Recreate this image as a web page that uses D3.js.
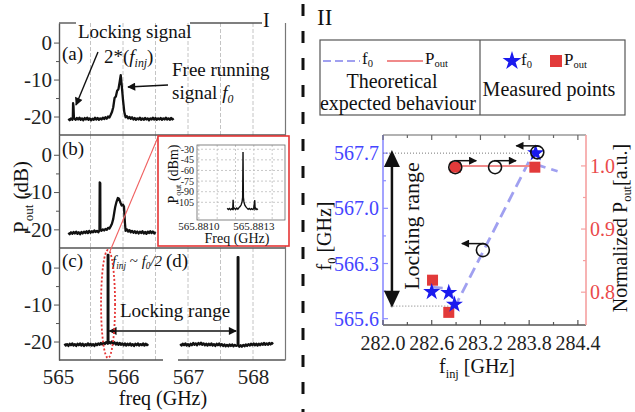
<!DOCTYPE html>
<html><head><meta charset="utf-8">
<script src="https://cdn.jsdelivr.net/npm/d3@7"></script>
<style>
body{margin:0;background:#fff}
svg{display:block}
</style>
</head><body>
<svg id="chart" width="635" height="412" font-family="'Liberation Serif','Times New Roman',serif"></svg>
<script>
// ---------------- DATA ----------------
// Panel I spectra: [freq GHz, power dB]
const specA = [
[565.16,-20.6],[565.18,-21.0],[565.20,-20.5],[565.22,-20.9],[565.228,-20.6],[565.232,-16.4],[565.238,-17.2],[565.245,-20.4],[565.27,-20.9],[565.29,-20.4],[565.31,-20.8],[565.33,-20.3],[565.35,-20.9],[565.37,-20.5],[565.39,-21.0],[565.41,-20.4],[565.43,-20.8],[565.45,-20.3],[565.47,-20.9],[565.49,-20.5],[565.51,-21.0],[565.53,-20.6],[565.55,-20.9],[565.57,-20.3],[565.59,-20.8],[565.61,-20.4],[565.63,-20.9],[565.65,-20.5],[565.67,-20.8],[565.69,-20.3],[565.71,-20.7],[565.73,-20.2],[565.75,-20.6],[565.77,-20.0],[565.79,-20.3],[565.81,-19.6],[565.83,-18.8],[565.85,-17.5],[565.87,-15.0],[565.89,-14.6],[565.91,-13.0],[565.93,-12.6],[565.95,-10.5],[565.965,-8.8],[565.98,-11.5],[566.00,-15.5],[566.02,-18.8],[566.04,-20.2],[566.06,-19.9],[566.08,-20.5],[566.10,-20.1],[566.12,-20.6],[566.14,-20.2],[566.16,-20.8],[566.18,-20.4],[566.20,-20.9],[566.22,-20.5],[566.24,-20.8],[566.26,-20.3],[566.28,-20.9],[566.30,-20.5],[566.32,-20.9],[566.34,-20.4],[566.36,-20.8],[566.38,-20.5],[566.40,-21.0],[566.42,-20.5],[566.44,-20.8],[566.46,-20.3],[566.48,-20.8],[566.50,-20.4],[566.52,-20.9],[566.54,-20.5],[566.56,-20.8],[566.58,-20.4],[566.60,-20.9],[566.62,-20.5],[566.64,-20.8],[566.66,-20.3],[566.68,-20.8],[566.70,-20.5],[566.72,-20.9],[566.74,-20.4],[566.76,-20.8],[566.78,-20.5]
];
const specB = [
[565.16,-20.9],[565.18,-21.3],[565.20,-20.8],[565.22,-21.2],[565.24,-20.7],[565.26,-21.1],[565.28,-20.6],[565.30,-21.2],[565.32,-20.8],[565.34,-21.3],[565.36,-20.7],[565.38,-21.1],[565.40,-20.6],[565.42,-21.0],[565.44,-20.5],[565.46,-21.0],[565.48,-20.4],[565.50,-20.9],[565.52,-20.5],[565.54,-20.8],[565.56,-20.3],[565.58,-20.7],[565.60,-20.4],[565.62,-20.8],[565.638,-20.3],[565.642,-7.4],[565.65,-7.6],[565.652,-20.2],[565.67,-20.4],[565.69,-20.0],[565.71,-20.3],[565.73,-19.9],[565.75,-20.1],[565.77,-19.6],[565.79,-19.8],[565.81,-19.2],[565.83,-18.5],[565.85,-17.2],[565.87,-15.0],[565.88,-14.0],[565.90,-12.6],[565.92,-11.6],[565.94,-11.8],[565.96,-12.8],[565.98,-13.6],[566.00,-13.4],[566.015,-13.9],[566.03,-18.3],[566.04,-20.4],[566.06,-20.0],[566.08,-20.6],[566.10,-20.2],[566.12,-20.8],[566.14,-20.4],[566.16,-20.9],[566.18,-20.5],[566.20,-21.0],[566.22,-20.6],[566.24,-21.1],[566.26,-20.6],[566.28,-21.0],[566.30,-20.5],[566.32,-21.1],[566.34,-20.7],[566.36,-21.2],[566.38,-20.6],[566.40,-21.0],[566.42,-20.5],[566.44,-21.0],[566.46,-20.6],[566.48,-21.1],[566.50,-20.7]
];
const specC = [
[565.10,-20.6],[565.12,-21.1],[565.14,-20.7],[565.16,-21.2],[565.18,-20.6],[565.20,-21.0],[565.22,-20.5],[565.24,-21.1],[565.26,-20.7],[565.28,-21.2],[565.30,-20.6],[565.32,-21.0],[565.34,-20.5],[565.36,-21.1],[565.38,-20.6],[565.40,-21.2],[565.42,-20.7],[565.44,-21.1],[565.46,-20.5],[565.48,-21.0],[565.50,-20.6],[565.52,-21.1],[565.54,-20.7],[565.56,-21.2],[565.58,-20.6],[565.60,-21.0],[565.62,-20.5],[565.64,-20.9],[565.66,-20.4],[565.68,-20.8],[565.70,-20.3],[565.72,-20.7],[565.74,-20.2],[565.765,-20.6],[565.765,3.4],[565.775,3.4],[565.775,-20.5],[565.79,-20.1],[565.81,-20.5],[565.83,-20.0],[565.85,-20.6],[565.87,-20.2],[565.89,-20.8],[565.91,-20.3],[565.93,-20.9],[565.95,-20.4],[565.97,-20.9],[565.99,-20.5],[566.01,-21.0],[566.03,-20.5],[566.05,-21.1],[566.07,-20.6],[566.09,-21.0],[566.11,-20.5],[566.13,-21.1],[566.15,-20.7],[566.17,-21.2],[566.19,-20.6],[566.21,-21.0],[566.23,-20.5],[566.25,-21.1],[566.27,-20.7],[566.29,-21.0],[566.31,-20.5],[566.33,-21.1],[566.35,-20.6],[566.37,-21.0],[566.39,-20.7]
];
const specD = [
[566.88,-20.7],[566.90,-21.1],[566.92,-20.6],[566.94,-21.0],[566.96,-20.5],[566.98,-21.1],[567.00,-20.7],[567.02,-21.2],[567.04,-20.6],[567.06,-21.0],[567.08,-20.4],[567.10,-20.9],[567.12,-20.5],[567.14,-21.0],[567.16,-20.4],[567.18,-20.8],[567.20,-20.3],[567.22,-20.9],[567.24,-20.5],[567.26,-21.0],[567.28,-20.6],[567.30,-21.1],[567.32,-20.6],[567.34,-21.0],[567.36,-20.5],[567.38,-21.1],[567.40,-20.7],[567.42,-21.2],[567.44,-20.6],[567.46,-21.0],[567.48,-20.5],[567.50,-21.1],[567.52,-20.7],[567.54,-21.2],[567.56,-20.8],[567.58,-21.3],[567.60,-20.9],[567.62,-21.3],[567.64,-20.8],[567.66,-21.2],[567.68,-20.8],[567.70,-21.3],[567.72,-20.9],[567.74,-21.2],[567.765,-21.0],[567.765,2.8],[567.775,2.8],[567.775,-21.1],[567.79,-21.4],[567.81,-21.0],[567.83,-21.4],[567.85,-20.9],[567.87,-21.3],[567.89,-20.8],[567.91,-21.2],[567.93,-20.7],[567.95,-21.1],[567.97,-20.6],[567.99,-21.0],[568.01,-20.5],[568.03,-21.0],[568.05,-20.6],[568.07,-21.1],[568.09,-20.6],[568.11,-21.0],[568.13,-20.5],[568.15,-20.9],[568.17,-20.4],[568.19,-20.9],[568.21,-20.5],[568.23,-20.9],[568.25,-20.4],[568.27,-20.8],[568.29,-20.4],[568.31,-20.7]
];
const specTicks = [0,-10,-20];
const specMinor = [-5,-15];
const freqTicks = [565,566,567,568];
const freqGrid = [565.5,566,566.5,567,567.5,568];

// Inset spectrum: [freq GHz, power dBm]
const insetSpec = [
[565.881155,-113.5],[565.881161,-115.2],[565.881167,-113.8],[565.881173,-115.5],[565.881179,-114.0],[565.881185,-115.0],[565.881187,-101.5],[565.881189,-114.6],[565.881195,-113.4],[565.881201,-115.1],[565.881207,-113.2],[565.881213,-114.6],[565.881219,-112.5],[565.881225,-111.0],[565.881231,-108.5],[565.881236,-104.0],[565.881239,-98],[565.881241,-34],[565.881243,-98],[565.881246,-104.5],[565.881251,-109.0],[565.881257,-111.5],[565.881263,-113.2],[565.881269,-114.8],[565.881275,-113.6],[565.881281,-115.3],[565.881287,-113.9],[565.881293,-115.0],[565.881299,-114.2],[565.881305,-102.0],[565.881307,-114.8],[565.881311,-113.6],[565.881317,-115.2],[565.881322,-114.0]
];
const insetYTicks = [-30,-45,-60,-75,-90,-105];
const insetXTicks = [565.8810,565.8813];
const insetXGrid = [565.8810,565.8811,565.8812,565.8813,565.8814];

// Panel II
const finjTheoF0 = [282.6, 282.82, 282.89, 283.86, 283.9, 284.15];
const f0Theo     = [566.0, 565.98, 565.76, 567.72, 567.55, 567.47];
const finjTheoP  = [282.89, 283.86];
const pTheo      = [1.0, 1.0];
const finjMeasF0 = [282.6, 282.81, 282.88, 283.88];
const f0Meas     = [565.94, 565.93, 565.78, 567.70];
const finjMeasP  = [282.61, 282.81, 282.89, 283.87];
const pMeas      = [0.819, 0.768, 0.998, 0.998];
// axis-indicator circles: finj, value, axis, arrow direction
const indFinj = [282.89, 283.38, 283.23, 283.90];
const indVal  = [0.998, 0.998, 566.47, 567.71];
const indAxis = ['P','P','F','F'];
const indDir  = [1, 1, -1, -1];
const finjTicks = [282.0,282.6,283.2,283.8,284.4];
const finjMinor = [282.3,282.9,283.5,284.1];
const f0Ticks = [565.6,566.3,567.0,567.7];
const f0Minor = [565.95,566.65,567.35];
const pTicks = [0.8,0.9,1.0];
const pMinor = [0.85,0.95];

// ---------------- DRAW ----------------
const FONT = "'Liberation Serif','Times New Roman','DejaVu Serif',serif";
const svg = d3.select('#chart');
svg.append('rect').attr('width',635).attr('height',412).attr('fill','#fff');
const defs = svg.append('defs');
defs.append('marker').attr('id','ah').attr('viewBox','0 0 10 10').attr('refX',9).attr('refY',5)
  .attr('markerUnits','userSpaceOnUse').attr('markerWidth',10).attr('markerHeight',8).attr('orient','auto-start-reverse')
  .append('path').attr('d','M0,0 L10,5 L0,10 z').attr('fill','#111');

function addText(g, x, y, parts, opts={}) {
  const t = g.append('text').attr('x',x).attr('y',y)
    .attr('font-size',opts.size||19).attr('text-anchor',opts.anchor||'start');
  if (opts.rotate) t.attr('transform',`rotate(${opts.rotate},${x},${y})`);
  t.attr('fill',opts.fill||'#111');
  parts.forEach(p=>{
    const s = t.append('tspan').text(p.t);
    if (p.italic) s.attr('font-style','italic');
    if (p.sub) s.attr('font-size',(opts.size||19)*0.62).attr('dy',p.sub);
    else if (p.dy) s.attr('dy',p.dy);
  });
  return t;
}

// ===== Panel I =====
const gI = svg.append('g');
const xI = d3.scaleLinear().domain([565,568.5]).range([58,285.5]);
const bands = [[23,135],[135,248],[248,360]];
const yS = bands.map(b=>d3.scaleLinear().domain([-25,5.3]).range([b[1],b[0]]));

// grid
bands.forEach(b=>{
  gI.selectAll(null).data(freqGrid).enter().append('line')
    .attr('x1',d=>xI(d)).attr('x2',d=>xI(d)).attr('y1',b[0]).attr('y2',b[1])
    .attr('stroke','#c4c4c4').attr('stroke-width',1).attr('stroke-dasharray','4,2');
});

// spectra
const lineFor = y => d3.line().x(d=>xI(d[0])).y(d=>y(d[1]));
[[specA,0],[specB,1],[specC,2],[specD,2]].forEach(([data,i])=>{
  gI.append('path').datum(data).attr('d',lineFor(yS[i]))
    .attr('fill','none').attr('stroke','#111').attr('stroke-width',2.3).attr('stroke-linejoin','round');
});

// frames
const fr = (x1,y1,x2,y2,c='#555',w=1.4)=>gI.append('line').attr('x1',x1).attr('y1',y1).attr('x2',x2).attr('y2',y2).attr('stroke',c).attr('stroke-width',w);
fr(59,23,76,23); fr(190,23,262,23);
fr(59,135,285.5,135); fr(59,248,285.5,248);
fr(59,360,163,360); fr(178,360,285.5,360);
fr(285.5,23,285.5,360,'#777',1.2);

// left axes
yS.forEach(y=>{
  const ax = gI.append('g').attr('transform','translate(59,0)')
    .call(d3.axisLeft(y).tickValues(specTicks).tickSize(5).tickSizeOuter(0).tickPadding(2).tickFormat(d=>String(d)));
  ax.attr('font-family',FONT);
  ax.select('.domain').attr('stroke','#555').attr('stroke-width',1.4);
  ax.selectAll('.tick line').attr('stroke','#555');
  ax.selectAll('text').attr('font-size',21).attr('fill','#222');
  gI.append('g').attr('transform','translate(59,0)')
    .call(d3.axisLeft(y).tickValues(specMinor).tickSize(3).tickFormat(''))
    .call(g=>{g.select('.domain').remove(); g.selectAll('line').attr('stroke','#555');});
});
// bottom axis labels
const bx = gI.append('g').attr('transform','translate(0,360)')
  .call(d3.axisBottom(xI).tickValues(freqTicks).tickSize(0).tickPadding(9).tickFormat(d=>String(d)));
bx.attr('font-family',FONT);
bx.select('.domain').remove();
bx.selectAll('text').attr('font-size',21).attr('fill','#222');
addText(gI,163,405,[{t:'freq (GHz)'}],{size:20,anchor:'middle'});
addText(gI,28,197,[{t:'P'},{t:'out',sub:5},{t:' (dB)',dy:-5}],{size:21,anchor:'middle',rotate:-90});

// annotations panel a
addText(gI,78,38,[{t:'Locking signal'}],{size:19});
addText(gI,62,60,[{t:'(a)'}],{size:19});
addText(gI,104,63,[{t:'2*('},{t:'f',italic:true},{t:'inj',italic:true,sub:4},{t:')',dy:-4}],{size:19});
addText(gI,172,76,[{t:'Free running'}],{size:19});
addText(gI,172,99,[{t:'signal '},{t:'f',italic:true},{t:'0',italic:true,sub:4}],{size:19});
addText(gI,263,27,[{t:'I'}],{size:20});
gI.append('line').attr('x1',98).attr('y1',52).attr('x2',76).attr('y2',105)
  .attr('stroke','#111').attr('stroke-width',1.4).attr('marker-end','url(#ah)');
gI.append('line').attr('x1',168).attr('y1',85).attr('x2',128).attr('y2',87)
  .attr('stroke','#111').attr('stroke-width',1.4).attr('marker-end','url(#ah)');
// panel b, c, d labels
addText(gI,62,155,[{t:'(b)'}],{size:19});
addText(gI,62,267,[{t:'(c)'}],{size:19});
addText(gI,166,267,[{t:'(d)'}],{size:19});
addText(gI,112,266,[{t:'f',italic:true},{t:'inj',italic:true,sub:3},{t:' ~ ',dy:-3},{t:'f',italic:true},{t:'0',italic:true,sub:3},{t:'/2',italic:true,dy:-3}],{size:15});
addText(gI,120,317,[{t:'Locking range'}],{size:19});
gI.append('line').attr('x1',xI(565.79)).attr('y1',331).attr('x2',xI(567.74)).attr('y2',331)
  .attr('stroke','#111').attr('stroke-width',1.6).attr('marker-end','url(#ah)').attr('marker-start','url(#ah)');
// red ellipse and zoom connector
gI.append('ellipse').attr('cx',xI(565.77)).attr('cy',304).attr('rx',7).attr('ry',54)
  .attr('fill','none').attr('stroke','#e53535').attr('stroke-width',1.8).attr('stroke-dasharray','2,2');
gI.append('line').attr('x1',158).attr('y1',137).attr('x2',xI(565.77)+2).attr('y2',251)
  .attr('stroke','#f06060').attr('stroke-width',1.1);

// ===== Inset =====
const gIn = svg.append('g');
gIn.append('rect').attr('x',158).attr('y',136).attr('width',131).attr('height',110)
  .attr('fill','#fff').attr('stroke','#e53535').attr('stroke-width',1.6);
const xIn = d3.scaleLinear().domain([565.88099,565.88147]).range([197,285]);
const yIn = d3.scaleLinear().domain([-130,-24]).range([220,145]);
gIn.selectAll(null).data(insetYTicks).enter().append('line')
  .attr('x1',197).attr('x2',285).attr('y1',d=>yIn(d)).attr('y2',d=>yIn(d))
  .attr('stroke','#bbb').attr('stroke-width',0.8).attr('stroke-dasharray','2,2');
gIn.selectAll(null).data(insetXGrid).enter().append('line')
  .attr('x1',d=>xIn(d)).attr('x2',d=>xIn(d)).attr('y1',145).attr('y2',220)
  .attr('stroke','#bbb').attr('stroke-width',0.8).attr('stroke-dasharray','2,2');
gIn.append('rect').attr('x',197).attr('y',145).attr('width',88).attr('height',75)
  .attr('fill','none').attr('stroke','#666').attr('stroke-width',0.8);
gIn.append('path').datum(insetSpec).attr('d',d3.line().x(d=>xIn(d[0])).y(d=>yIn(d[1])))
  .attr('fill','none').attr('stroke','#111').attr('stroke-width',1.4);
gIn.selectAll(null).data(insetYTicks).enter().append('text')
  .attr('x',194).attr('y',d=>yIn(d)+3.5).attr('text-anchor','end').attr('font-size',10).attr('fill','#222').text(d=>String(d));
gIn.selectAll(null).data(insetXTicks).enter().append('text')
  .attr('x',d=>xIn(d)).attr('y',230).attr('text-anchor','middle').attr('font-size',11).attr('fill','#222').text(d=>d.toFixed(4));
addText(gIn,237,243,[{t:'Freq (GHz)'}],{size:14,anchor:'middle'});
addText(gIn,178,174,[{t:'P'},{t:'out',sub:3},{t:' (dBm)',dy:-3}],{size:14,anchor:'middle',rotate:-90});

// ===== Divider =====
svg.append('line').attr('x1',303).attr('x2',303).attr('y1',0).attr('y2',412)
  .attr('stroke','#111').attr('stroke-width',3).attr('stroke-dasharray','12,15').attr('stroke-dashoffset',-4);

// ===== Panel II =====
const gII = svg.append('g');
addText(gII,317,25,[{t:'II'}],{size:23});
// legend
gII.append('rect').attr('x',320).attr('y',40).attr('width',305).attr('height',75)
  .attr('fill','#fff').attr('stroke','#555').attr('stroke-width',1.2);
gII.append('line').attr('x1',480).attr('x2',480).attr('y1',40).attr('y2',115).attr('stroke','#555').attr('stroke-width',1.2);
gII.append('line').attr('x1',323).attr('x2',360).attr('y1',61).attr('y2',61)
  .attr('stroke','#a0a0f0').attr('stroke-width',2).attr('stroke-dasharray','8,4');
addText(gII,362,64,[{t:'f'},{t:'0',sub:3}],{size:17});
gII.append('line').attr('x1',387).attr('x2',423).attr('y1',61).attr('y2',61)
  .attr('stroke','#f08a8a').attr('stroke-width',2);
addText(gII,425,64,[{t:'P'},{t:'out',sub:3}],{size:17});
addText(gII,392,88,[{t:'Theoretical'}],{size:20,anchor:'middle'});
addText(gII,398,110,[{t:'expected behaviour'}],{size:20,anchor:'middle'});
gII.append('path').attr('d',d3.symbol(d3.symbolStar,110)()).attr('transform','translate(512,61)').attr('fill','#1a1aee');
addText(gII,521,65,[{t:'f'},{t:'0',sub:3}],{size:17});
gII.append('rect').attr('x',550).attr('y',55).attr('width',12).attr('height',12).attr('fill','#e23a3a');
addText(gII,564,65,[{t:'P'},{t:'out',sub:3}],{size:17});
addText(gII,549,96,[{t:'Measured points'}],{size:20,anchor:'middle'});

// scales
const xII = d3.scaleLinear().domain([282.0,284.5]).range([383,586]);
const yF = d3.scaleLinear().domain([565.52,567.93]).range([325,135]);
const yP = d3.scaleLinear().domain([0.748,1.049]).range([325,135]);

// axes frame
const l2 = (x1,y1,x2,y2,c,w)=>gII.append('line').attr('x1',x1).attr('y1',y1).attr('x2',x2).attr('y2',y2).attr('stroke',c).attr('stroke-width',w);
l2(383,135,586,135,'#666',1.2);
l2(383,325,586,325,'#555',1.4);
l2(383,135,383,325,'#8c8cff',1.6);
l2(586,135,586,325,'#f5a0a0',1.6);
finjTicks.forEach(v=>{l2(xII(v),325,xII(v),320,'#555',1.2); l2(xII(v),135,xII(v),140,'#666',1.2);});
finjMinor.forEach(v=>{l2(xII(v),325,xII(v),322,'#555',1.2); l2(xII(v),135,xII(v),138,'#666',1.2);});
f0Ticks.forEach(v=>l2(383,yF(v),388,yF(v),'#8c8cff',1.2));
f0Minor.forEach(v=>l2(383,yF(v),386,yF(v),'#8c8cff',1.2));
pTicks.forEach(v=>l2(586,yP(v),581,yP(v),'#f5a0a0',1.2));
pMinor.forEach(v=>l2(586,yP(v),583,yP(v),'#f5a0a0',1.2));
gII.selectAll(null).data(finjTicks).enter().append('text')
  .attr('x',d=>xII(d)).attr('y',350).attr('text-anchor','middle').attr('font-size',20).attr('fill','#222').text(d=>d.toFixed(1));
gII.selectAll(null).data(f0Ticks).enter().append('text')
  .attr('x',379).attr('y',d=>yF(d)+7).attr('text-anchor','end').attr('font-size',20).attr('fill','#4545ff').text(d=>d.toFixed(1));
gII.selectAll(null).data(pTicks).enter().append('text')
  .attr('x',590).attr('y',d=>yP(d)+7).attr('text-anchor','start').attr('font-size',20).attr('fill','#ea4a4a').text(d=>d.toFixed(1));
addText(gII,477,373,[{t:'f'},{t:'inj',sub:5},{t:' [GHz]',dy:-5}],{size:20,anchor:'middle'});
addText(gII,331,236,[{t:'f'},{t:'0',sub:5},{t:' [GHz]',dy:-5}],{size:20,anchor:'middle',rotate:-90});
addText(gII,627,228,[{t:'Normalized P'},{t:'out',sub:4},{t:'[a.u.]',dy:-4}],{size:20,anchor:'middle',rotate:-90});

// dotted reference lines
gII.append('line').attr('x1',383).attr('x2',xII(283.93)).attr('y1',yF(567.7)).attr('y2',yF(567.7))
  .attr('stroke','#777').attr('stroke-width',1).attr('stroke-dasharray','1,2');
gII.append('line').attr('x1',xII(282.09)).attr('x2',xII(282.87)).attr('y1',yF(565.76)).attr('y2',yF(565.76))
  .attr('stroke','#777').attr('stroke-width',1).attr('stroke-dasharray','1,2');

// locking range arrow
gII.append('line').attr('x1',xII(282.11)).attr('x2',xII(282.11)).attr('y1',yF(567.55)).attr('y2',yF(565.92))
  .attr('stroke','#111').attr('stroke-width',2.5);
const arrowHead = (x,ytip,dir)=>gII.append('path')
  .attr('d',`M${x},${ytip} L${x-8},${ytip+dir*17} L${x+8},${ytip+dir*17} Z`).attr('fill','#111');
arrowHead(xII(282.11),yF(567.74),1);
arrowHead(xII(282.11),yF(565.74),-1);
addText(gII,419,226,[{t:'Locking range'}],{size:22,anchor:'middle',rotate:-90});

// theoretical lines
const thF = finjTheoF0.map((d,i)=>[d,f0Theo[i]]);
gII.append('path').datum(thF).attr('d',d3.line().x(d=>xII(d[0])).y(d=>yF(d[1])))
  .attr('fill','none').attr('stroke','#a0a0f0').attr('stroke-width',2.8).attr('stroke-dasharray','11,6');
const thP = finjTheoP.map((d,i)=>[d,pTheo[i]]);
gII.append('path').datum(thP).attr('d',d3.line().x(d=>xII(d[0])).y(d=>yP(d[1])))
  .attr('fill','none').attr('stroke','#f08a8a').attr('stroke-width',2);

// measured points
gII.selectAll(null).data(finjMeasP.map((d,i)=>[d,pMeas[i]])).enter().append('rect')
  .attr('x',d=>xII(d[0])-5.5).attr('y',d=>yP(d[1])-5.5).attr('width',11).attr('height',11).attr('fill','#e23a3a');
gII.selectAll(null).data(finjMeasF0.map((d,i)=>[d,f0Meas[i]])).enter().append('path')
  .attr('d',d3.symbol(d3.symbolStar,90)()).attr('transform',d=>`translate(${xII(d[0])},${yF(d[1])})`).attr('fill','#1a1aee');

// axis-indicator circles with arrows
indFinj.forEach((f,i)=>{
  const cx = xII(f), cy = indAxis[i]==='P' ? yP(indVal[i]) : yF(indVal[i]);
  gII.append('circle').attr('cx',cx).attr('cy',cy).attr('r',6.5).attr('fill','none').attr('stroke','#111').attr('stroke-width',1.6);
  const dir = indDir[i];
  gII.append('line').attr('x1',cx-dir).attr('y1',cy-6.5).attr('x2',cx+dir*21).attr('y2',cy-6.5)
    .attr('stroke','#111').attr('stroke-width',1.5).attr('marker-end','url(#ah)');
});

// force serif font on every text
svg.selectAll('text').attr('font-family',FONT).style('font-family',FONT);
</script>
</body></html>
